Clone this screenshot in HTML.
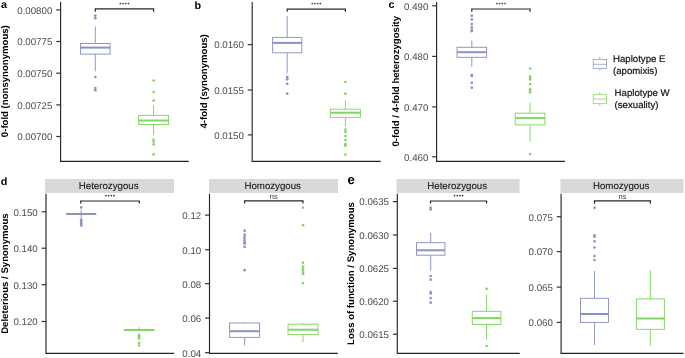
<!DOCTYPE html>
<html><head><meta charset="utf-8"><style>
html,body{margin:0;padding:0;background:#fff;width:685px;height:358px;overflow:hidden}
svg{display:block;will-change:transform;text-rendering:geometricPrecision;font-family:"Liberation Sans",sans-serif}
</style></head><body>
<svg width="685" height="358" viewBox="0 0 685 358">
<rect width="685" height="358" fill="#fff"/>
<text x="0.9" y="8.2" font-size="10.8" fill="#000" text-anchor="start" font-weight="bold" >a</text>
<text x="0" y="0" font-size="9.6" font-weight="bold" fill="#000" text-anchor="middle" transform="translate(7.5,81.2) rotate(-90)">0-fold (nonsynonymous)</text>
<line x1="60.6" y1="2" x2="60.6" y2="162.0" stroke="#262626" stroke-width="1.15" />
<line x1="56.2" y1="9.9" x2="60.6" y2="9.9" stroke="#333" stroke-width="1.2" />
<text x="52.3" y="13.7" font-size="9.7" fill="#4d4d4d" text-anchor="end" font-weight="normal" >0.00800</text>
<line x1="56.2" y1="41.5" x2="60.6" y2="41.5" stroke="#333" stroke-width="1.2" />
<text x="52.3" y="45.3" font-size="9.7" fill="#4d4d4d" text-anchor="end" font-weight="normal" >0.00775</text>
<line x1="56.2" y1="73.2" x2="60.6" y2="73.2" stroke="#333" stroke-width="1.2" />
<text x="52.3" y="77.0" font-size="9.7" fill="#4d4d4d" text-anchor="end" font-weight="normal" >0.00750</text>
<line x1="56.2" y1="104.9" x2="60.6" y2="104.9" stroke="#333" stroke-width="1.2" />
<text x="52.3" y="108.7" font-size="9.7" fill="#4d4d4d" text-anchor="end" font-weight="normal" >0.00725</text>
<line x1="56.2" y1="136.5" x2="60.6" y2="136.5" stroke="#333" stroke-width="1.2" />
<text x="52.3" y="140.3" font-size="9.7" fill="#4d4d4d" text-anchor="end" font-weight="normal" >0.00700</text>
<line x1="60.1" y1="161.4" x2="188.8" y2="161.4" stroke="#262626" stroke-width="1.15" />
<line x1="95.3" y1="26.3" x2="95.3" y2="43.5" stroke="#8a93c6" stroke-width="0.95" />
<line x1="95.3" y1="54.1" x2="95.3" y2="71.3" stroke="#8a93c6" stroke-width="0.95" />
<rect x="80.5" y="43.5" width="29.6" height="10.600000000000001" fill="white" stroke="#8a93c6" stroke-width="0.95"/>
<line x1="80.5" y1="47.6" x2="110.1" y2="47.6" stroke="#8a93c6" stroke-width="2.0" />
<circle cx="95.3" cy="15.6" r="1.35" fill="#8a93c6"/>
<circle cx="95.3" cy="18.2" r="1.35" fill="#8a93c6"/>
<circle cx="95.3" cy="77.0" r="1.35" fill="#8a93c6"/>
<circle cx="95.3" cy="88.1" r="1.35" fill="#8a93c6"/>
<circle cx="95.3" cy="90.2" r="1.35" fill="#8a93c6"/>
<line x1="153.6" y1="105.1" x2="153.6" y2="115.4" stroke="#83d662" stroke-width="0.95" />
<line x1="153.6" y1="124.5" x2="153.6" y2="135.3" stroke="#83d662" stroke-width="0.95" />
<rect x="138.6" y="115.4" width="30.0" height="9.099999999999994" fill="white" stroke="#83d662" stroke-width="0.95"/>
<line x1="138.6" y1="120.5" x2="168.6" y2="120.5" stroke="#83d662" stroke-width="2.0" />
<circle cx="153.6" cy="80.5" r="1.35" fill="#83d662"/>
<circle cx="153.6" cy="92.1" r="1.35" fill="#83d662"/>
<circle cx="153.6" cy="100.6" r="1.35" fill="#83d662"/>
<circle cx="153.6" cy="139.6" r="1.35" fill="#83d662"/>
<circle cx="153.6" cy="141.6" r="1.35" fill="#83d662"/>
<circle cx="153.6" cy="144.4" r="1.35" fill="#83d662"/>
<circle cx="153.6" cy="154.4" r="1.35" fill="#83d662"/>
<path d="M95.3,11.7 L95.3,8.9 L153.6,8.9 L153.6,11.7" fill="none" stroke="#262626" stroke-width="1.2"/>
<circle cx="120.35" cy="3.5" r="0.85" fill="#333"/>
<circle cx="123.05" cy="3.5" r="0.85" fill="#333"/>
<circle cx="125.75" cy="3.5" r="0.85" fill="#333"/>
<circle cx="128.45" cy="3.5" r="0.85" fill="#333"/>
<text x="194.5" y="9.2" font-size="10.8" fill="#000" text-anchor="start" font-weight="bold" >b</text>
<text x="0" y="0" font-size="9.6" font-weight="bold" fill="#000" text-anchor="middle" transform="translate(207.0,81.4) rotate(-90)">4-fold (synonymous)</text>
<line x1="252.2" y1="2" x2="252.2" y2="162.0" stroke="#262626" stroke-width="1.15" />
<line x1="247.79999999999998" y1="44.6" x2="252.2" y2="44.6" stroke="#333" stroke-width="1.2" />
<text x="243.89999999999998" y="48.4" font-size="9.7" fill="#4d4d4d" text-anchor="end" font-weight="normal" >0.0160</text>
<line x1="247.79999999999998" y1="90.0" x2="252.2" y2="90.0" stroke="#333" stroke-width="1.2" />
<text x="243.89999999999998" y="93.8" font-size="9.7" fill="#4d4d4d" text-anchor="end" font-weight="normal" >0.0155</text>
<line x1="247.79999999999998" y1="134.9" x2="252.2" y2="134.9" stroke="#333" stroke-width="1.2" />
<text x="243.89999999999998" y="138.70000000000002" font-size="9.7" fill="#4d4d4d" text-anchor="end" font-weight="normal" >0.0150</text>
<line x1="251.9" y1="161.4" x2="380.7" y2="161.4" stroke="#262626" stroke-width="1.15" />
<line x1="287.2" y1="16.1" x2="287.2" y2="37.4" stroke="#8a93c6" stroke-width="0.95" />
<line x1="287.2" y1="52.8" x2="287.2" y2="72.8" stroke="#8a93c6" stroke-width="0.95" />
<rect x="272.59999999999997" y="37.4" width="29.2" height="15.399999999999999" fill="white" stroke="#8a93c6" stroke-width="0.95"/>
<line x1="272.59999999999997" y1="42.9" x2="301.8" y2="42.9" stroke="#8a93c6" stroke-width="2.0" />
<circle cx="287.2" cy="77.2" r="1.35" fill="#8a93c6"/>
<circle cx="287.2" cy="79.3" r="1.35" fill="#8a93c6"/>
<circle cx="287.2" cy="83.8" r="1.35" fill="#8a93c6"/>
<circle cx="287.2" cy="93.7" r="1.35" fill="#8a93c6"/>
<line x1="345.4" y1="100.4" x2="345.4" y2="109.2" stroke="#83d662" stroke-width="0.95" />
<line x1="345.4" y1="117.4" x2="345.4" y2="126.1" stroke="#83d662" stroke-width="0.95" />
<rect x="330.4" y="109.2" width="30.0" height="8.200000000000003" fill="white" stroke="#83d662" stroke-width="0.95"/>
<line x1="330.4" y1="112.7" x2="360.4" y2="112.7" stroke="#83d662" stroke-width="2.0" />
<circle cx="345.4" cy="82.0" r="1.35" fill="#83d662"/>
<circle cx="345.4" cy="93.7" r="1.35" fill="#83d662"/>
<circle cx="345.4" cy="129.6" r="1.35" fill="#83d662"/>
<circle cx="345.4" cy="132.0" r="1.35" fill="#83d662"/>
<circle cx="345.4" cy="136.0" r="1.35" fill="#83d662"/>
<circle cx="345.4" cy="139.9" r="1.35" fill="#83d662"/>
<circle cx="345.4" cy="144.2" r="1.35" fill="#83d662"/>
<circle cx="345.4" cy="145.7" r="1.35" fill="#83d662"/>
<circle cx="345.4" cy="154.5" r="1.35" fill="#83d662"/>
<path d="M287.2,11.7 L287.2,9.2 L345.4,9.2 L345.4,11.7" fill="none" stroke="#262626" stroke-width="1.2"/>
<circle cx="312.25" cy="3.5" r="0.85" fill="#333"/>
<circle cx="314.95" cy="3.5" r="0.85" fill="#333"/>
<circle cx="317.65" cy="3.5" r="0.85" fill="#333"/>
<circle cx="320.35" cy="3.5" r="0.85" fill="#333"/>
<text x="388.4" y="7.6" font-size="10.8" fill="#000" text-anchor="start" font-weight="bold" >c</text>
<text x="0" y="0" font-size="9.6" font-weight="bold" fill="#000" text-anchor="middle" transform="translate(399.0,81.2) rotate(-90)">0-fold / 4-fold heterozygosity</text>
<line x1="436.6" y1="2" x2="436.6" y2="162.0" stroke="#262626" stroke-width="1.15" />
<line x1="432.20000000000005" y1="5.8" x2="436.6" y2="5.8" stroke="#333" stroke-width="1.2" />
<text x="428.3" y="9.6" font-size="9.7" fill="#4d4d4d" text-anchor="end" font-weight="normal" >0.490</text>
<line x1="432.20000000000005" y1="56.4" x2="436.6" y2="56.4" stroke="#333" stroke-width="1.2" />
<text x="428.3" y="60.199999999999996" font-size="9.7" fill="#4d4d4d" text-anchor="end" font-weight="normal" >0.480</text>
<line x1="432.20000000000005" y1="106.9" x2="436.6" y2="106.9" stroke="#333" stroke-width="1.2" />
<text x="428.3" y="110.7" font-size="9.7" fill="#4d4d4d" text-anchor="end" font-weight="normal" >0.470</text>
<line x1="432.20000000000005" y1="156.8" x2="436.6" y2="156.8" stroke="#333" stroke-width="1.2" />
<text x="428.3" y="160.60000000000002" font-size="9.7" fill="#4d4d4d" text-anchor="end" font-weight="normal" >0.460</text>
<line x1="436.1" y1="161.4" x2="565.0" y2="161.4" stroke="#262626" stroke-width="1.15" />
<line x1="471.8" y1="40.4" x2="471.8" y2="47.3" stroke="#8a93c6" stroke-width="0.95" />
<line x1="471.8" y1="57.3" x2="471.8" y2="66.8" stroke="#8a93c6" stroke-width="0.95" />
<rect x="457.0" y="47.3" width="29.6" height="10.0" fill="white" stroke="#8a93c6" stroke-width="0.95"/>
<line x1="457.0" y1="52.2" x2="486.6" y2="52.2" stroke="#8a93c6" stroke-width="2.0" />
<circle cx="471.8" cy="15.7" r="1.35" fill="#8a93c6"/>
<circle cx="471.8" cy="19.3" r="1.35" fill="#8a93c6"/>
<circle cx="471.8" cy="24.1" r="1.35" fill="#8a93c6"/>
<circle cx="471.8" cy="27.4" r="1.35" fill="#8a93c6"/>
<circle cx="471.8" cy="30.0" r="1.35" fill="#8a93c6"/>
<circle cx="471.8" cy="31.2" r="1.35" fill="#8a93c6"/>
<circle cx="471.8" cy="75.0" r="1.35" fill="#8a93c6"/>
<circle cx="471.8" cy="76.0" r="1.35" fill="#8a93c6"/>
<circle cx="471.8" cy="82.8" r="1.35" fill="#8a93c6"/>
<circle cx="471.8" cy="87.7" r="1.35" fill="#8a93c6"/>
<line x1="530.1" y1="102.8" x2="530.1" y2="113.2" stroke="#83d662" stroke-width="0.95" />
<line x1="530.1" y1="124.9" x2="530.1" y2="141.8" stroke="#83d662" stroke-width="0.95" />
<rect x="515.2" y="113.2" width="29.8" height="11.700000000000003" fill="white" stroke="#83d662" stroke-width="0.95"/>
<line x1="515.2" y1="118.1" x2="545.0" y2="118.1" stroke="#83d662" stroke-width="2.0" />
<circle cx="530.1" cy="68.5" r="1.35" fill="#83d662"/>
<circle cx="530.1" cy="76.5" r="1.35" fill="#83d662"/>
<circle cx="530.1" cy="78.0" r="1.35" fill="#83d662"/>
<circle cx="530.1" cy="79.5" r="1.35" fill="#83d662"/>
<circle cx="530.1" cy="84.0" r="1.35" fill="#83d662"/>
<circle cx="530.1" cy="89.3" r="1.35" fill="#83d662"/>
<circle cx="530.1" cy="90.8" r="1.35" fill="#83d662"/>
<circle cx="530.1" cy="92.2" r="1.35" fill="#83d662"/>
<circle cx="530.1" cy="154.1" r="1.35" fill="#83d662"/>
<path d="M471.8,11.7 L471.8,9.0 L530.1,9.0 L530.1,11.7" fill="none" stroke="#262626" stroke-width="1.2"/>
<circle cx="496.90" cy="3.5" r="0.85" fill="#333"/>
<circle cx="499.60" cy="3.5" r="0.85" fill="#333"/>
<circle cx="502.30" cy="3.5" r="0.85" fill="#333"/>
<circle cx="505.00" cy="3.5" r="0.85" fill="#333"/>
<line x1="599.8" y1="57.0" x2="599.8" y2="59.6" stroke="#8a93c6" stroke-width="0.75" />
<line x1="599.8" y1="68.4" x2="599.8" y2="70.8" stroke="#8a93c6" stroke-width="0.75" />
<rect x="593.1999999999999" y="59.6" width="13.2" height="8.800000000000004" fill="white" stroke="#8a93c6" stroke-width="0.75"/>
<line x1="593.1999999999999" y1="64.3" x2="606.4" y2="64.3" stroke="#8a93c6" stroke-width="0.75" />
<line x1="599.8" y1="91.8" x2="599.8" y2="94.3" stroke="#83d662" stroke-width="0.75" />
<line x1="599.8" y1="103.7" x2="599.8" y2="106.4" stroke="#83d662" stroke-width="0.75" />
<rect x="593.1999999999999" y="94.3" width="13.2" height="9.400000000000006" fill="white" stroke="#83d662" stroke-width="0.75"/>
<line x1="593.1999999999999" y1="99.1" x2="606.4" y2="99.1" stroke="#83d662" stroke-width="0.75" />
<text x="613" y="61.7" font-size="9.65" fill="#111" text-anchor="start" font-weight="normal" stroke="#111" stroke-width="0.2">Haplotype E</text>
<text x="613" y="74.2" font-size="9.65" fill="#111" text-anchor="start" font-weight="normal" stroke="#111" stroke-width="0.2">(apomixis)</text>
<text x="614.6" y="95.7" font-size="9.65" fill="#111" text-anchor="start" font-weight="normal" stroke="#111" stroke-width="0.2">Haplotype W</text>
<text x="614.6" y="108.4" font-size="9.65" fill="#111" text-anchor="start" font-weight="normal" stroke="#111" stroke-width="0.2">(sexuality)</text>
<text x="0.8" y="185.0" font-size="10.8" fill="#000" text-anchor="start" font-weight="bold" >d</text>
<text x="0" y="0" font-size="9.6" font-weight="bold" fill="#000" text-anchor="middle" transform="translate(7.6,273.6) rotate(-90)">Deleterious / Synonymous</text>
<rect x="45.0" y="179" width="129.0" height="14" fill="#d9d9d9"/>
<text x="108.7" y="188.8" font-size="9.7" fill="#1a1a1a" text-anchor="middle" font-weight="normal" stroke="#1a1a1a" stroke-width="0.12">Heterozygous</text>
<line x1="46.0" y1="193.8" x2="46.0" y2="353.5" stroke="#262626" stroke-width="1.15" />
<line x1="41.6" y1="211.8" x2="46.0" y2="211.8" stroke="#333" stroke-width="1.2" />
<text x="37.7" y="215.60000000000002" font-size="9.7" fill="#4d4d4d" text-anchor="end" font-weight="normal" >0.150</text>
<line x1="41.6" y1="248.2" x2="46.0" y2="248.2" stroke="#333" stroke-width="1.2" />
<text x="37.7" y="252.0" font-size="9.7" fill="#4d4d4d" text-anchor="end" font-weight="normal" >0.140</text>
<line x1="41.6" y1="284.7" x2="46.0" y2="284.7" stroke="#333" stroke-width="1.2" />
<text x="37.7" y="288.5" font-size="9.7" fill="#4d4d4d" text-anchor="end" font-weight="normal" >0.130</text>
<line x1="41.6" y1="321.5" x2="46.0" y2="321.5" stroke="#333" stroke-width="1.2" />
<text x="37.7" y="325.3" font-size="9.7" fill="#4d4d4d" text-anchor="end" font-weight="normal" >0.120</text>
<line x1="45.5" y1="353.4" x2="174.0" y2="353.4" stroke="#262626" stroke-width="1.15" />
<line x1="81.2" y1="209.5" x2="81.2" y2="213.6" stroke="#8a93c6" stroke-width="0.95" />
<line x1="81.2" y1="214.4" x2="81.2" y2="218.0" stroke="#8a93c6" stroke-width="0.95" />
<rect x="66.60000000000001" y="213.6" width="29.2" height="0.8000000000000114" fill="white" stroke="#8a93c6" stroke-width="0.95"/>
<line x1="66.60000000000001" y1="214.0" x2="95.8" y2="214.0" stroke="#8a93c6" stroke-width="2.0" />
<circle cx="81.2" cy="207.4" r="1.35" fill="#8a93c6"/>
<circle cx="81.2" cy="219.5" r="1.35" fill="#8a93c6"/>
<circle cx="81.2" cy="221.0" r="1.35" fill="#8a93c6"/>
<circle cx="81.2" cy="222.5" r="1.35" fill="#8a93c6"/>
<circle cx="81.2" cy="224.0" r="1.35" fill="#8a93c6"/>
<circle cx="81.2" cy="225.5" r="1.35" fill="#8a93c6"/>
<line x1="139.1" y1="327.2" x2="139.1" y2="329.6" stroke="#83d662" stroke-width="0.95" />
<line x1="139.1" y1="330.4" x2="139.1" y2="330.4" stroke="#83d662" stroke-width="0.95" />
<rect x="124.19999999999999" y="329.6" width="29.8" height="0.7999999999999545" fill="white" stroke="#83d662" stroke-width="0.95"/>
<line x1="124.19999999999999" y1="330.0" x2="154.0" y2="330.0" stroke="#83d662" stroke-width="2.0" />
<circle cx="139.1" cy="334.9" r="1.35" fill="#83d662"/>
<circle cx="139.1" cy="336.6" r="1.35" fill="#83d662"/>
<circle cx="139.1" cy="338.4" r="1.35" fill="#83d662"/>
<circle cx="139.1" cy="342.8" r="1.35" fill="#83d662"/>
<circle cx="139.1" cy="345.5" r="1.35" fill="#83d662"/>
<path d="M80.7,203.5 L80.7,201.0 L139.3,201.0 L139.3,203.5" fill="none" stroke="#262626" stroke-width="1.2"/>
<circle cx="105.95" cy="195.6" r="0.85" fill="#333"/>
<circle cx="108.65" cy="195.6" r="0.85" fill="#333"/>
<circle cx="111.35" cy="195.6" r="0.85" fill="#333"/>
<circle cx="114.05" cy="195.6" r="0.85" fill="#333"/>
<rect x="209.0" y="179" width="129.0" height="14" fill="#d9d9d9"/>
<text x="272.7" y="188.8" font-size="9.7" fill="#1a1a1a" text-anchor="middle" font-weight="normal" stroke="#1a1a1a" stroke-width="0.12">Homozygous</text>
<line x1="209.5" y1="193.8" x2="209.5" y2="353.5" stroke="#262626" stroke-width="1.15" />
<line x1="205.1" y1="215.1" x2="209.5" y2="215.1" stroke="#333" stroke-width="1.2" />
<text x="201.2" y="218.9" font-size="9.7" fill="#4d4d4d" text-anchor="end" font-weight="normal" >0.12</text>
<line x1="205.1" y1="249.7" x2="209.5" y2="249.7" stroke="#333" stroke-width="1.2" />
<text x="201.2" y="253.5" font-size="9.7" fill="#4d4d4d" text-anchor="end" font-weight="normal" >0.10</text>
<line x1="205.1" y1="283.7" x2="209.5" y2="283.7" stroke="#333" stroke-width="1.2" />
<text x="201.2" y="287.5" font-size="9.7" fill="#4d4d4d" text-anchor="end" font-weight="normal" >0.08</text>
<line x1="205.1" y1="318.1" x2="209.5" y2="318.1" stroke="#333" stroke-width="1.2" />
<text x="201.2" y="321.90000000000003" font-size="9.7" fill="#4d4d4d" text-anchor="end" font-weight="normal" >0.06</text>
<line x1="205.1" y1="352.7" x2="209.5" y2="352.7" stroke="#333" stroke-width="1.2" />
<text x="201.2" y="356.5" font-size="9.7" fill="#4d4d4d" text-anchor="end" font-weight="normal" >0.04</text>
<line x1="209.0" y1="353.4" x2="337.9" y2="353.4" stroke="#262626" stroke-width="1.15" />
<line x1="244.6" y1="322.0" x2="244.6" y2="323.0" stroke="#8a93c6" stroke-width="0.95" />
<line x1="244.6" y1="337.4" x2="244.6" y2="345.6" stroke="#8a93c6" stroke-width="0.95" />
<rect x="229.6" y="323.0" width="30.0" height="14.399999999999977" fill="white" stroke="#8a93c6" stroke-width="0.95"/>
<line x1="229.6" y1="331.2" x2="259.6" y2="331.2" stroke="#8a93c6" stroke-width="2.0" />
<circle cx="244.6" cy="230.7" r="1.35" fill="#8a93c6"/>
<circle cx="244.6" cy="234.5" r="1.35" fill="#8a93c6"/>
<circle cx="244.6" cy="236.5" r="1.35" fill="#8a93c6"/>
<circle cx="244.6" cy="238.5" r="1.35" fill="#8a93c6"/>
<circle cx="244.6" cy="240.5" r="1.35" fill="#8a93c6"/>
<circle cx="244.6" cy="242.5" r="1.35" fill="#8a93c6"/>
<circle cx="244.6" cy="243.6" r="1.35" fill="#8a93c6"/>
<circle cx="244.6" cy="246.8" r="1.35" fill="#8a93c6"/>
<circle cx="244.6" cy="270.2" r="1.35" fill="#8a93c6"/>
<line x1="303.0" y1="323.0" x2="303.0" y2="324.2" stroke="#83d662" stroke-width="0.95" />
<line x1="303.0" y1="334.6" x2="303.0" y2="342.0" stroke="#83d662" stroke-width="0.95" />
<rect x="288.0" y="324.2" width="30.0" height="10.400000000000034" fill="white" stroke="#83d662" stroke-width="0.95"/>
<line x1="288.0" y1="329.7" x2="318.0" y2="329.7" stroke="#83d662" stroke-width="2.0" />
<circle cx="303.0" cy="207.7" r="1.35" fill="#83d662"/>
<circle cx="303.0" cy="225.2" r="1.35" fill="#83d662"/>
<circle cx="303.0" cy="262.8" r="1.35" fill="#83d662"/>
<circle cx="303.0" cy="266.5" r="1.35" fill="#83d662"/>
<circle cx="303.0" cy="268.5" r="1.35" fill="#83d662"/>
<circle cx="303.0" cy="270.5" r="1.35" fill="#83d662"/>
<circle cx="303.0" cy="272.5" r="1.35" fill="#83d662"/>
<circle cx="303.0" cy="274.0" r="1.35" fill="#83d662"/>
<circle cx="303.0" cy="283.1" r="1.35" fill="#83d662"/>
<path d="M244.6,203.4 L244.6,200.9 L303.0,200.9 L303.0,203.4" fill="none" stroke="#262626" stroke-width="1.2"/>
<text x="273.8" y="199.4" font-size="7.5" fill="#333" text-anchor="middle" font-weight="normal" >ns</text>
<text x="347.4" y="184.0" font-size="13.2" fill="#000" text-anchor="start" font-weight="bold" >e</text>
<text x="0" y="0" font-size="9.6" font-weight="bold" fill="#000" text-anchor="middle" transform="translate(353.7,273.5) rotate(-90)">Loss of function / Synonymous</text>
<rect x="396.5" y="179" width="123.0" height="14" fill="#d9d9d9"/>
<text x="457.2" y="188.8" font-size="9.7" fill="#1a1a1a" text-anchor="middle" font-weight="normal" stroke="#1a1a1a" stroke-width="0.12">Heterozygous</text>
<line x1="397.3" y1="193.8" x2="397.3" y2="353.5" stroke="#262626" stroke-width="1.15" />
<line x1="392.90000000000003" y1="201.6" x2="397.3" y2="201.6" stroke="#333" stroke-width="1.2" />
<text x="389.0" y="205.4" font-size="9.7" fill="#4d4d4d" text-anchor="end" font-weight="normal" >0.0635</text>
<line x1="392.90000000000003" y1="235.0" x2="397.3" y2="235.0" stroke="#333" stroke-width="1.2" />
<text x="389.0" y="238.8" font-size="9.7" fill="#4d4d4d" text-anchor="end" font-weight="normal" >0.0630</text>
<line x1="392.90000000000003" y1="268.4" x2="397.3" y2="268.4" stroke="#333" stroke-width="1.2" />
<text x="389.0" y="272.2" font-size="9.7" fill="#4d4d4d" text-anchor="end" font-weight="normal" >0.0625</text>
<line x1="392.90000000000003" y1="301.2" x2="397.3" y2="301.2" stroke="#333" stroke-width="1.2" />
<text x="389.0" y="305.0" font-size="9.7" fill="#4d4d4d" text-anchor="end" font-weight="normal" >0.0620</text>
<line x1="392.90000000000003" y1="334.3" x2="397.3" y2="334.3" stroke="#333" stroke-width="1.2" />
<text x="389.0" y="338.1" font-size="9.7" fill="#4d4d4d" text-anchor="end" font-weight="normal" >0.0615</text>
<line x1="396.8" y1="353.4" x2="519.7" y2="353.4" stroke="#262626" stroke-width="1.15" />
<line x1="430.7" y1="232.8" x2="430.7" y2="242.7" stroke="#8a93c6" stroke-width="0.95" />
<line x1="430.7" y1="255.2" x2="430.7" y2="270.8" stroke="#8a93c6" stroke-width="0.95" />
<rect x="416.5" y="242.7" width="28.4" height="12.5" fill="white" stroke="#8a93c6" stroke-width="0.95"/>
<line x1="416.5" y1="250.3" x2="444.9" y2="250.3" stroke="#8a93c6" stroke-width="2.0" />
<circle cx="430.7" cy="207.8" r="1.35" fill="#8a93c6"/>
<circle cx="430.7" cy="209.5" r="1.35" fill="#8a93c6"/>
<circle cx="430.7" cy="276.0" r="1.35" fill="#8a93c6"/>
<circle cx="430.7" cy="279.7" r="1.35" fill="#8a93c6"/>
<circle cx="430.7" cy="292.0" r="1.35" fill="#8a93c6"/>
<circle cx="430.7" cy="293.5" r="1.35" fill="#8a93c6"/>
<circle cx="430.7" cy="298.1" r="1.35" fill="#8a93c6"/>
<circle cx="430.7" cy="302.7" r="1.35" fill="#8a93c6"/>
<line x1="486.6" y1="294.5" x2="486.6" y2="311.3" stroke="#83d662" stroke-width="0.95" />
<line x1="486.6" y1="324.5" x2="486.6" y2="339.5" stroke="#83d662" stroke-width="0.95" />
<rect x="472.3" y="311.3" width="28.6" height="13.199999999999989" fill="white" stroke="#83d662" stroke-width="0.95"/>
<line x1="472.3" y1="318.1" x2="500.90000000000003" y2="318.1" stroke="#83d662" stroke-width="2.0" />
<circle cx="486.6" cy="288.9" r="1.35" fill="#83d662"/>
<circle cx="486.6" cy="346.0" r="1.35" fill="#83d662"/>
<path d="M430.5,203.6 L430.5,201.0 L486.6,201.0 L486.6,203.6" fill="none" stroke="#262626" stroke-width="1.2"/>
<circle cx="454.50" cy="195.6" r="0.85" fill="#333"/>
<circle cx="457.20" cy="195.6" r="0.85" fill="#333"/>
<circle cx="459.90" cy="195.6" r="0.85" fill="#333"/>
<circle cx="462.60" cy="195.6" r="0.85" fill="#333"/>
<rect x="560.5" y="179" width="123.0" height="14" fill="#d9d9d9"/>
<text x="621.2" y="188.8" font-size="9.7" fill="#1a1a1a" text-anchor="middle" font-weight="normal" stroke="#1a1a1a" stroke-width="0.12">Homozygous</text>
<line x1="561.1" y1="193.8" x2="561.1" y2="353.5" stroke="#262626" stroke-width="1.15" />
<line x1="556.7" y1="216.7" x2="561.1" y2="216.7" stroke="#333" stroke-width="1.2" />
<text x="552.8000000000001" y="220.5" font-size="9.7" fill="#4d4d4d" text-anchor="end" font-weight="normal" >0.075</text>
<line x1="556.7" y1="251.6" x2="561.1" y2="251.6" stroke="#333" stroke-width="1.2" />
<text x="552.8000000000001" y="255.4" font-size="9.7" fill="#4d4d4d" text-anchor="end" font-weight="normal" >0.070</text>
<line x1="556.7" y1="287.1" x2="561.1" y2="287.1" stroke="#333" stroke-width="1.2" />
<text x="552.8000000000001" y="290.90000000000003" font-size="9.7" fill="#4d4d4d" text-anchor="end" font-weight="normal" >0.065</text>
<line x1="556.7" y1="322.4" x2="561.1" y2="322.4" stroke="#333" stroke-width="1.2" />
<text x="552.8000000000001" y="326.2" font-size="9.7" fill="#4d4d4d" text-anchor="end" font-weight="normal" >0.060</text>
<line x1="560.6" y1="353.4" x2="683.5" y2="353.4" stroke="#262626" stroke-width="1.15" />
<line x1="594.5" y1="271.1" x2="594.5" y2="298.3" stroke="#8a93c6" stroke-width="0.95" />
<line x1="594.5" y1="322.4" x2="594.5" y2="345.0" stroke="#8a93c6" stroke-width="0.95" />
<rect x="580.5" y="298.3" width="28.0" height="24.099999999999966" fill="white" stroke="#8a93c6" stroke-width="0.95"/>
<line x1="580.5" y1="314.0" x2="608.5" y2="314.0" stroke="#8a93c6" stroke-width="2.0" />
<circle cx="594.5" cy="207.8" r="1.35" fill="#8a93c6"/>
<circle cx="594.5" cy="235.4" r="1.35" fill="#8a93c6"/>
<circle cx="594.5" cy="236.7" r="1.35" fill="#8a93c6"/>
<circle cx="594.5" cy="241.3" r="1.35" fill="#8a93c6"/>
<circle cx="594.5" cy="247.5" r="1.35" fill="#8a93c6"/>
<circle cx="594.5" cy="256.0" r="1.35" fill="#8a93c6"/>
<circle cx="594.5" cy="260.0" r="1.35" fill="#8a93c6"/>
<line x1="650.4" y1="270.2" x2="650.4" y2="298.9" stroke="#83d662" stroke-width="0.95" />
<line x1="650.4" y1="329.3" x2="650.4" y2="345.9" stroke="#83d662" stroke-width="0.95" />
<rect x="636.4" y="298.9" width="28.0" height="30.400000000000034" fill="white" stroke="#83d662" stroke-width="0.95"/>
<line x1="636.4" y1="318.5" x2="664.4" y2="318.5" stroke="#83d662" stroke-width="2.0" />
<path d="M594.5,203.8 L594.5,200.8 L650.4,200.8 L650.4,203.8" fill="none" stroke="#262626" stroke-width="1.2"/>
<text x="622.45" y="199.4" font-size="7.5" fill="#333" text-anchor="middle" font-weight="normal" >ns</text>
</svg>
</body></html>
